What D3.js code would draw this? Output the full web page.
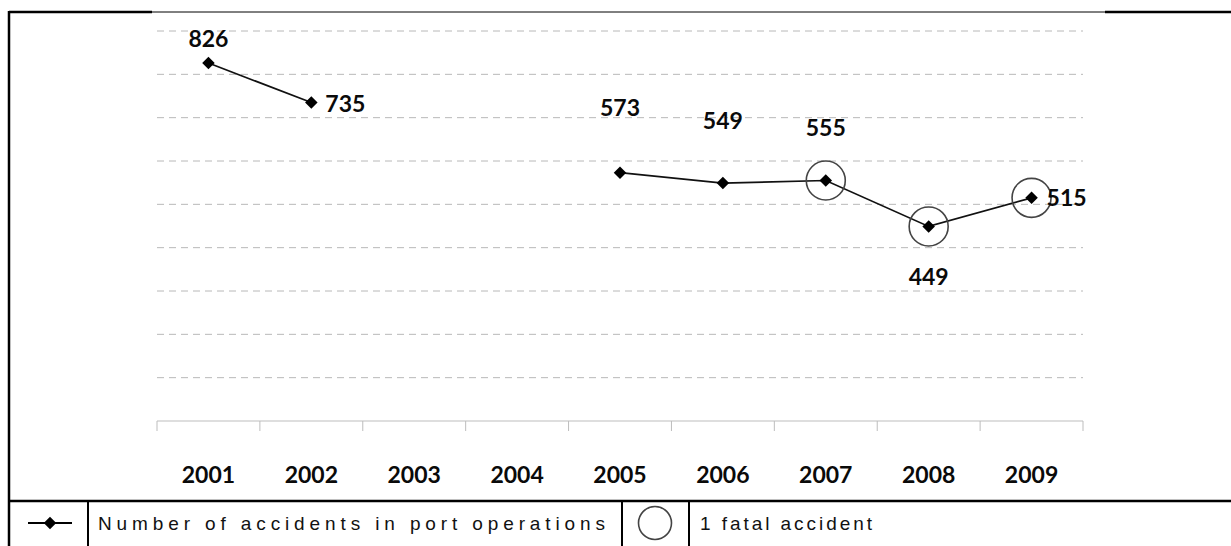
<!DOCTYPE html>
<html>
<head>
<meta charset="utf-8">
<script src="https://cdnjs.cloudflare.com/ajax/libs/d3/7.8.5/d3.min.js"></script>
<style>
    html, body { margin: 0; padding: 0; background: #fff; }
    svg { display: block; }
    .num { font-family: Lato, "DejaVu Sans", sans-serif; font-weight: 700; font-size: 23px; fill: #0a0a0a; }
    .legend-text { font-family: "Liberation Sans", Arial, sans-serif; font-size: 19px; fill: #111; }
</style>
</head>
<body>
<svg id="chart"></svg>
<script>

var years = [2001, 2002, 2003, 2004, 2005, 2006, 2007, 2008, 2009];
var accidents = [826, 735, null, null, 573, 549, 555, 449, 515];
var fatalYears = [2007, 2008, 2009];
var gridValues = [100, 200, 300, 400, 500, 600, 700, 800, 900];
var legendLabels = ['Number of accidents in port operations', '1 fatal accident'];

// where each value label sits relative to its point
var labelOffsets = {
    2001: [0, -16, 'middle'],
    2002: [14, 9, 'start'],
    2005: [0, -57, 'middle'],
    2006: [0, -54, 'middle'],
    2007: [0, -45, 'middle'],
    2008: [0, 59, 'middle'],
    2009: [15, 8, 'start']
};

var width = 1231,
    height = 546;

var svg = d3.select('#chart')
    .attr('width', width)
    .attr('height', height);

var x = d3.scaleBand()
    .domain(years)
    .range([157, 1083])
    .padding(0);

var y = d3.scaleLinear()
    .domain([0, 900])
    .range([421, 31]);

var cx = function(yr) { return x(yr) + x.bandwidth() / 2; };

// gridlines
svg.append('g')
    .selectAll('line')
    .data(gridValues)
    .join('line')
    .attr('x1', 157)
    .attr('x2', 1083)
    .attr('y1', d => y(d))
    .attr('y2', d => y(d))
    .attr('stroke', '#b8b8b8')
    .attr('stroke-width', 1)
    .attr('stroke-dasharray', '7,5');

// x axis: baseline with ticks on band edges, labels drawn separately
var axis = svg.append('g');
axis.append('line')
    .attr('x1', 157).attr('x2', 1083)
    .attr('y1', y(0)).attr('y2', y(0))
    .attr('stroke', '#bdbdbd');
axis.selectAll('line.tick')
    .data(years.concat(['end']))
    .join('line')
    .attr('class', 'tick')
    .attr('x1', d => d === 'end' ? x.range()[1] : x(d))
    .attr('x2', d => d === 'end' ? x.range()[1] : x(d))
    .attr('y1', y(0))
    .attr('y2', y(0) + 10)
    .attr('stroke', '#bdbdbd');

svg.append('g')
    .selectAll('text')
    .data(years)
    .join('text')
    .attr('class', 'num')
    .attr('x', d => cx(d))
    .attr('y', 483)
    .attr('text-anchor', 'middle')
    .text(d => d);

// series
var points = years.map((yr, i) => ({ year: yr, value: accidents[i] }));
var line = d3.line()
    .defined(d => d.value != null)
    .x(d => cx(d.year))
    .y(d => y(d.value));

svg.append('path')
    .datum(points)
    .attr('d', line)
    .attr('fill', 'none')
    .attr('stroke', '#111')
    .attr('stroke-width', 1.7);

var diamond = d3.symbol().type(d3.symbolDiamond2).size(100);

svg.append('g')
    .selectAll('path')
    .data(points.filter(d => d.value != null))
    .join('path')
    .attr('d', diamond)
    .attr('transform', d => 'translate(' + cx(d.year) + ',' + y(d.value) + ')')
    .attr('fill', '#000');

// fatal accident rings
svg.append('g')
    .selectAll('circle')
    .data(fatalYears)
    .join('circle')
    .attr('cx', d => cx(d))
    .attr('cy', d => y(accidents[years.indexOf(d)]))
    .attr('r', 19.5)
    .attr('fill', 'none')
    .attr('stroke', '#444')
    .attr('stroke-width', 1.6);

// value labels
svg.append('g')
    .selectAll('text')
    .data(points.filter(d => d.value != null))
    .join('text')
    .attr('class', 'num')
    .attr('x', d => cx(d.year) + labelOffsets[d.year][0])
    .attr('y', d => y(d.value) + labelOffsets[d.year][1])
    .attr('text-anchor', d => labelOffsets[d.year][2])
    .text(d => d.value);

// frame
var frame = svg.append('g').attr('stroke', '#000');
frame.append('line').attr('x1', 9).attr('x2', 152).attr('y1', 12).attr('y2', 12).attr('stroke-width', 2.5);
frame.append('line').attr('x1', 152).attr('x2', 1105).attr('y1', 12).attr('y2', 12).attr('stroke-width', 1);
frame.append('line').attr('x1', 1105).attr('x2', width).attr('y1', 12).attr('y2', 12).attr('stroke-width', 2.5);
frame.append('line').attr('x1', 9).attr('x2', 9).attr('y1', 11).attr('y2', height).attr('stroke-width', 2.5);
frame.append('line').attr('x1', 8).attr('x2', width).attr('y1', 501).attr('y2', 501).attr('stroke-width', 2.5);
[88, 622, 689].forEach(function(xx) {
    frame.append('line').attr('x1', xx).attr('x2', xx).attr('y1', 501).attr('y2', height).attr('stroke-width', 2);
});

// legend
var ly = 523;
svg.append('line')
    .attr('x1', 28).attr('x2', 72)
    .attr('y1', ly).attr('y2', ly)
    .attr('stroke', '#000').attr('stroke-width', 2.2);
svg.append('path')
    .attr('d', diamond)
    .attr('transform', 'translate(50,' + ly + ')')
    .attr('fill', '#000');
svg.append('circle')
    .attr('cx', 655).attr('cy', 523)
    .attr('r', 16.5)
    .attr('fill', 'none')
    .attr('stroke', '#444')
    .attr('stroke-width', 1.6);

svg.append('text')
    .attr('class', 'legend-text')
    .attr('x', 98).attr('y', 530)
    .attr('textLength', 507)
    .attr('lengthAdjust', 'spacing')
    .text(legendLabels[0]);
svg.append('text')
    .attr('class', 'legend-text')
    .attr('x', 700).attr('y', 530)
    .attr('textLength', 172)
    .attr('lengthAdjust', 'spacing')
    .text(legendLabels[1]);

</script>
</body>
</html>
